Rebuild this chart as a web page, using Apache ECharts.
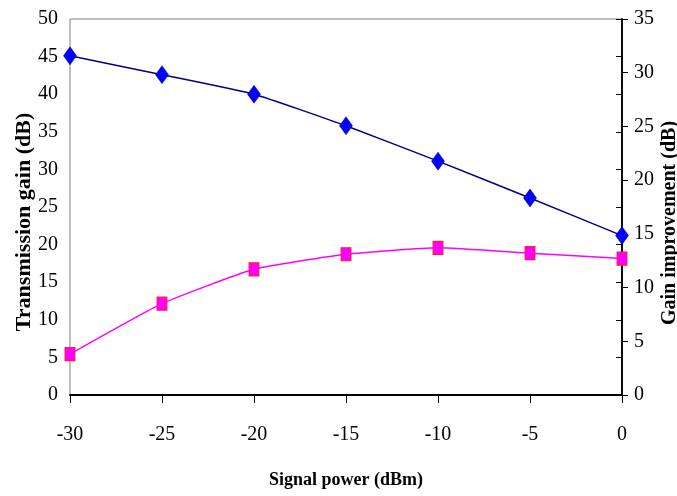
<!DOCTYPE html>
<html>
<head>
<meta charset="utf-8">
<script src="https://cdn.jsdelivr.net/npm/echarts@6/dist/echarts.min.js"></script>
<style>
html,body{margin:0;padding:0;background:#fff;}
#chart{width:677px;height:496px;}
</style>
</head>
<body>
<div id="chart"></div>
<script>
var signalPower = [-30, -25, -20, -15, -10, -5, 0];
var transmissionGain = [45.1, 42.6, 40.0, 35.8, 31.1, 26.2, 21.2];
var gainImprovement = [3.8, 8.5, 11.7, 13.1, 13.7, 13.2, 12.7];

function pairs(xs, ys) {
  return xs.map(function (x, i) { return [x, ys[i]]; });
}

var font = 'Liberation Serif, Times New Roman, serif';
var chart = echarts.init(document.getElementById('chart'), null, {renderer: 'canvas'});
chart.setOption({
  backgroundColor: '#ffffff',
  animation: false,
  grid: {left: 70, right: 55, top: 19, bottom: 101, outerBoundsMode: 'none', containLabel: false,
         show: true, borderColor: '#808080', borderWidth: 1, backgroundColor: 'transparent'},
  xAxis: {
    type: 'value', min: -30, max: 0, interval: 5,
    name: 'Signal power (dBm)', nameLocation: 'middle', nameGap: 76, nameMoveOverlap: false,
    nameTextStyle: {fontFamily: font, fontSize: 18, fontWeight: 'bold', color: '#000'},
    axisLine: {onZero: false, lineStyle: {color: '#000', width: 2}},
    axisTick: {show: true, length: 8, lineStyle: {color: '#000', width: 1}},
    axisLabel: {margin: 30, fontFamily: font, fontSize: 20, color: '#000'},
    splitLine: {show: false}
  },
  yAxis: [{
    type: 'value', min: 0, max: 50, interval: 5, position: 'left',
    name: 'Transmission gain (dB)', nameLocation: 'middle', nameGap: 35, nameRotate: 90, nameMoveOverlap: false,
    nameTextStyle: {fontFamily: font, fontSize: 22, fontWeight: 'bold', color: '#000', padding: [0, 30, 0, 0]},
    axisLine: {show: true, lineStyle: {color: '#000', width: 1.5}},
    axisTick: {show: true, length: 6, lineStyle: {color: '#000', width: 1}},
    axisLabel: {margin: 12, fontFamily: font, fontSize: 20, color: '#000'},
    splitLine: {show: false}
  }, {
    type: 'value', min: 0, max: 35, interval: 5, position: 'right',
    name: 'Gain improvement (dB)', nameLocation: 'middle', nameGap: 38, nameRotate: 90, nameMoveOverlap: false,
    nameTextStyle: {fontFamily: font, fontSize: 20, fontWeight: 'bold', color: '#000', padding: [0, 32, 0, 0]},
    axisLine: {show: true, lineStyle: {color: '#000', width: 1.5}},
    axisTick: {show: true, length: 6, lineStyle: {color: '#000', width: 1}},
    axisLabel: {margin: 12, fontFamily: font, fontSize: 20, color: '#000'},
    splitLine: {show: false}
  }],
  series: [{
    name: 'Transmission gain', type: 'line', yAxisIndex: 0,
    data: pairs(signalPower, transmissionGain),
    smooth: 0.15,
    symbol: 'diamond', symbolSize: [13, 18],
    lineStyle: {color: '#000080', width: 1.5},
    itemStyle: {color: '#0000ff', borderColor: '#000080', borderWidth: 0.5},
    z: 3
  }, {
    name: 'Gain improvement', type: 'line', yAxisIndex: 1,
    data: pairs(signalPower, gainImprovement),
    smooth: 0.15,
    symbol: 'rect', symbolSize: [10, 13],
    lineStyle: {color: '#ff00ff', width: 1.5},
    itemStyle: {color: '#ff00ff', borderColor: '#ff2020', borderWidth: 1},
    z: 3
  }]
});
</script>
</body>
</html>
